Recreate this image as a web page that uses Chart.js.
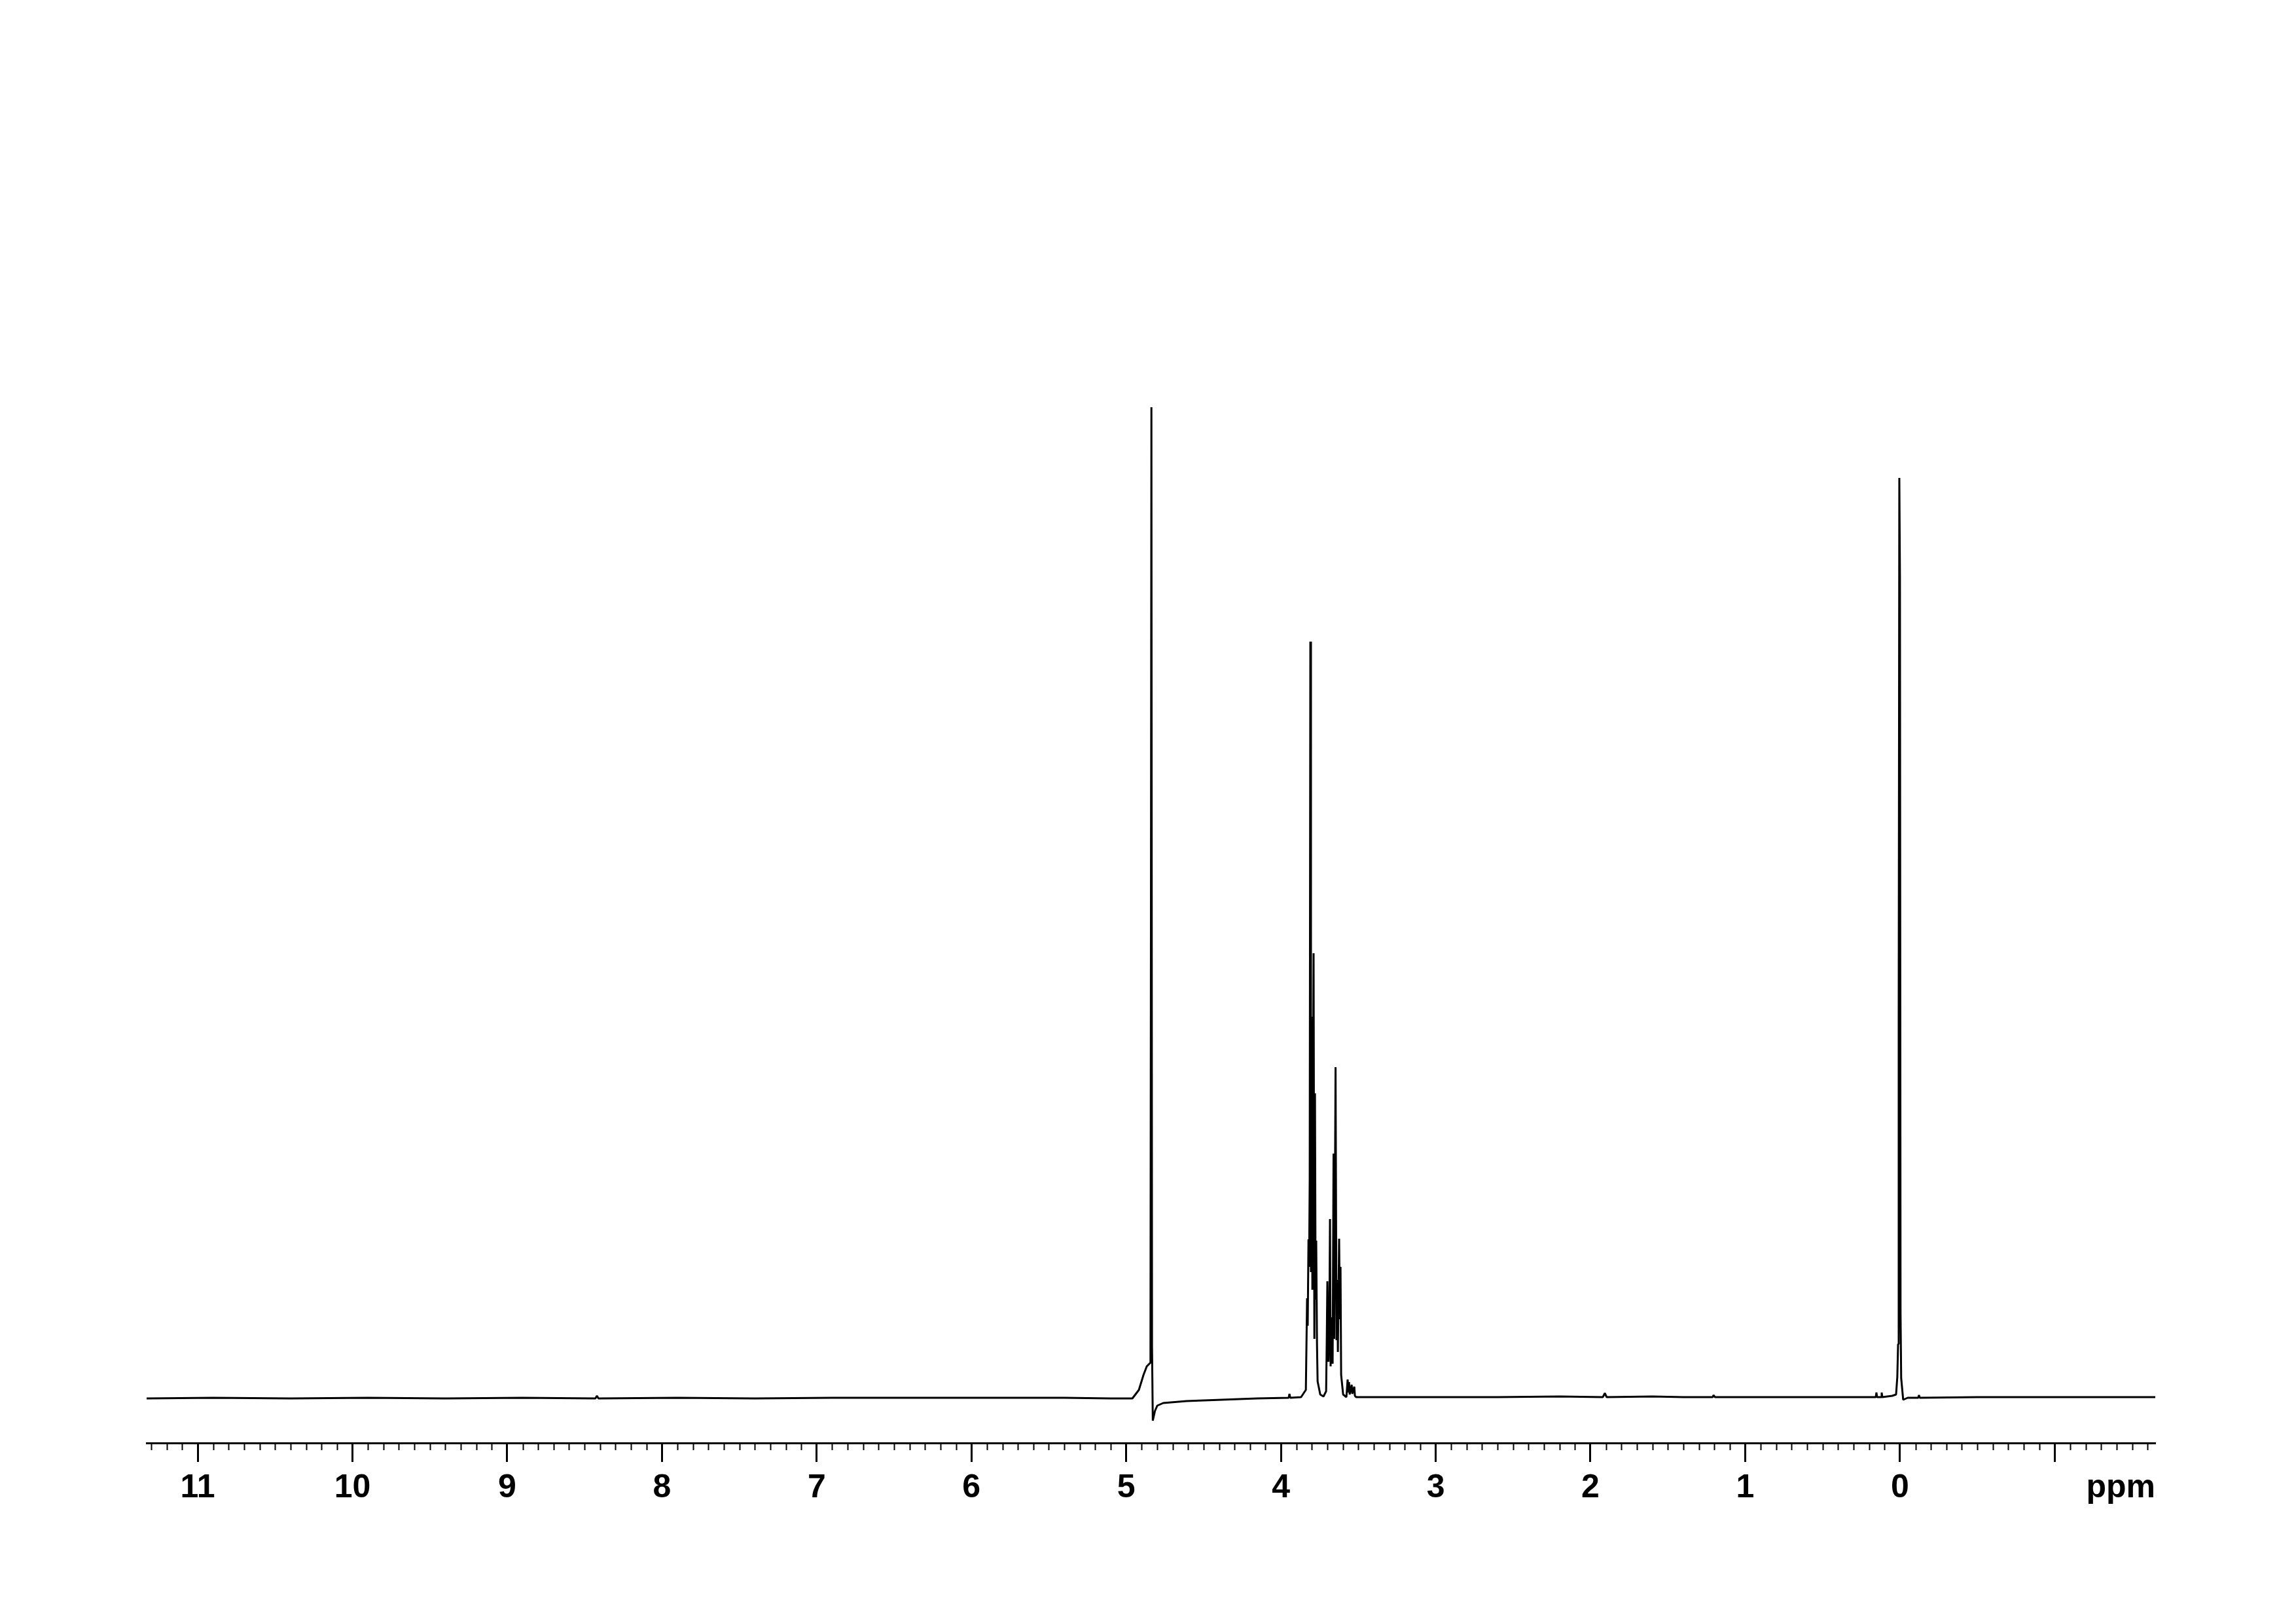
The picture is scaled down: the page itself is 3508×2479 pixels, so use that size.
<!DOCTYPE html>
<html lang="en">
<head>
    <meta charset="UTF-8">
    <title>1H NMR spectrum</title>
    <script src="https://cdn.jsdelivr.net/npm/chart.js"></script>
    <style>
        body { margin: 0; background: #fff; }
        #spectrum { display: block; }
    </style>
</head>
<body>
    <canvas id="spectrum" width="3508" height="2479"></canvas>
    <script>
        // chemical shift (ppm) and relative intensity
        const shiftPpm = [
            11.33, 10.9, 10.4, 9.9, 9.4, 8.9, 8.43, 8.42, 8.41, 7.9, 7.4, 6.9, 6.4, 5.9, 5.4, 5.1,
            4.960, 4.918, 4.888, 4.867, 4.846, 4.843, 4.840, 4.837, 4.833, 4.828, 4.814, 4.799, 4.761, 4.609, 4.156,
            3.950, 3.945, 3.940, 3.870,
            3.839, 3.831, 3.827, 3.822, 3.818, 3.814, 3.810, 3.806, 3.801, 3.797, 3.789, 3.784, 3.780, 3.776, 3.772,
            3.767, 3.763, 3.746, 3.725,
            3.708, 3.704, 3.700, 3.693, 3.687, 3.683, 3.679, 3.670, 3.666, 3.660, 3.656, 3.647, 3.641, 3.636, 3.632,
            3.624, 3.619, 3.615, 3.611, 3.598, 3.577,
            3.569, 3.564, 3.560, 3.556, 3.543, 3.539, 3.526, 3.522, 3.514,
            3.3, 3.0, 2.6, 2.2, 1.92, 1.907, 1.895, 1.6, 1.4, 1.21, 1.205, 1.195, 0.9, 0.5, 0.2,
            0.156, 0.152, 0.148, 0.122, 0.118, 0.114, 0.05, 0.025, 0.017, 0.012, 0.008, 0.004, 0.000, -0.004, -0.008,
            -0.021, -0.05, -0.118, -0.123, -0.128, -0.5, -1.0, -1.65
        ];
        const intensity = [
            -1, 0, -1, 0, -1, 0, -1, 3, -1, 0, -1, 0, 0, 0, 0, -1,
            -1, 12, 35, 48, 53, 70, 733, 1513, 78, -35, -20, -12, -8, -5, -1,
            0, 6, 0, 1,
            12, 152, 110, 242, 200, 335, 1155, 192, 582, 165, 679, 90, 465, 150, 240,
            82, 25, 5, 2,
            10, 85, 178, 55, 120, 273, 48, 123, 52, 373, 90, 505, 88, 180, 70,
            243, 120, 200, 35, 5, 1,
            28, 8, 24, 5, 20, 6, 17, 3, 1,
            1, 1, 1, 2, 1, 7, 1, 2, 1, 1, 4, 1, 1, 1, 1,
            1, 8, 1, 1, 8, 1, 3, 5, 32, 82, 575, 1405, 1254, 128, 30,
            -3, 0, 0, 4, 0, 1, 1, 1
        ];

        // axis
        const xMax = 11.33;
        const xMin = -1.65;
        const majorTicks = [11, 10, 9, 8, 7, 6, 5, 4, 3, 2, 1, 0, -1];
        const tickLabels = ['11', '10', '9', '8', '7', '6', '5', '4', '3', '2', '1', '0', ''];
        const minorFrom = -1.6;
        const minorTo = 11.3;
        const unitLabel = 'ppm';

        const FONT = '"Liberation Sans Narrow", "Liberation Sans", Arial, sans-serif';
        const TICK_LEN = 29;
        const LABEL_PAD = 10;

        const points = shiftPpm.map((p, i) => ({ x: p, y: intensity[i] }));

        const axisExtras = {
            id: 'axisExtras',
            afterDraw(chart) {
                const sx = chart.scales.x;
                const ctx = chart.ctx;
                ctx.save();
                ctx.strokeStyle = '#000';
                ctx.lineWidth = 2;
                ctx.beginPath();
                const n = Math.round((minorTo - minorFrom) * 10);
                for (let i = 0; i <= n; i++) {
                    const v = Math.round((minorFrom + i / 10) * 10) / 10;
                    if (Number.isInteger(v)) continue;
                    const px = Math.round(sx.getPixelForValue(v)) + 0.5;
                    ctx.moveTo(px, sx.top);
                    ctx.lineTo(px, sx.top + 11);
                }
                ctx.stroke();
                // unit at the right end of the axis
                ctx.fillStyle = '#000';
                ctx.font = 'bold 50px ' + FONT;
                ctx.textAlign = 'right';
                ctx.textBaseline = 'middle';
                ctx.fillText(unitLabel, chart.chartArea.right, sx.top + TICK_LEN + LABEL_PAD + 30);
                ctx.restore();
            }
        };

        new Chart(document.getElementById('spectrum'), {
            type: 'line',
            data: {
                datasets: [{
                    data: points,
                    borderColor: '#000',
                    borderWidth: 3,
                    borderJoinStyle: 'bevel',
                    pointRadius: 0,
                    tension: 0,
                    fill: false
                }]
            },
            options: {
                responsive: false,
                animation: false,
                devicePixelRatio: 1,
                layout: { padding: { left: 224, right: 215, top: 0, bottom: 0 } },
                plugins: { legend: { display: false }, tooltip: { enabled: false } },
                scales: {
                    x: {
                        type: 'linear',
                        reverse: true,
                        min: xMin,
                        max: xMax,
                        afterBuildTicks: (s) => { s.ticks = majorTicks.map(v => ({ value: v })); },
                        afterFit: (s) => { s.height = 275; },
                        border: { display: true, color: '#000', width: 3 },
                        grid: {
                            display: true,
                            drawOnChartArea: false,
                            drawTicks: true,
                            tickLength: TICK_LEN,
                            tickWidth: 3,
                            tickColor: '#000'
                        },
                        ticks: {
                            autoSkip: false,
                            maxRotation: 0,
                            padding: LABEL_PAD,
                            color: '#000',
                            font: { family: FONT, size: 50, weight: 'bold' },
                            callback: (v, i) => tickLabels[i]
                        }
                    },
                    y: {
                        display: false,
                        min: -69,
                        max: 2135
                    }
                }
            },
            plugins: [axisExtras]
        });
    </script>
</body>
</html>
